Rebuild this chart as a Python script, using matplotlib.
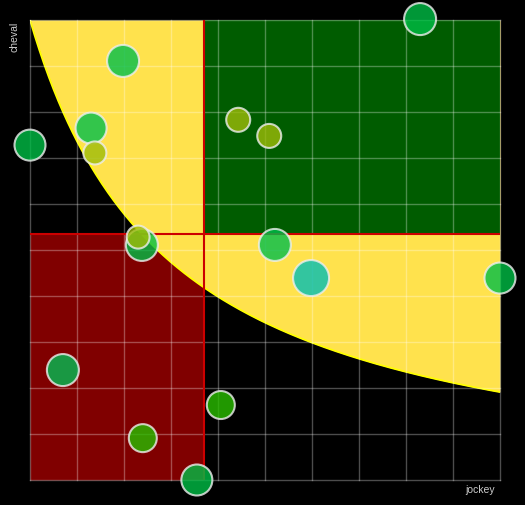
import numpy as np
import matplotlib
matplotlib.use("Agg")
import matplotlib.pyplot as plt
from matplotlib.patches import Rectangle

# --- données -------------------------------------------------------------
# position des points (jockey, cheval) sur une échelle de 0 à 10
jockey = [1.98, 1.30, 0.00, 1.38, 4.43, 5.09, 8.30, 2.38, 2.30, 5.21, 5.98, 10.00, 0.70, 4.06, 2.40, 3.55]
cheval = [9.11, 7.65, 7.28, 7.11, 7.83, 7.48, 10.02, 5.11, 5.28, 5.11, 4.39, 4.39, 2.39, 1.63, 0.91, 0.00]
# rayon des bulles (px)
rayon = [16, 15.5, 15.5, 11.5, 12, 12, 16, 16, 11.5, 16, 18, 15.5, 16, 14, 14, 15.5]
couleur = ["#00BE4B", "#00BE4B", "#00BE46", "#9EBC0A", "#9EBC0A", "#9EBC0A", "#00BE46", "#00BE46",
           "#9EBC0A", "#00BE4B", "#00BEB4", "#00BE46", "#00BF55", "#2ABF00", "#26BF00", "#00BE46"]

# seuils (lignes rouges)
seuil_jockey = 3.7
seuil_cheval = 5.35
# courbe de séparation : (u/10 + A) * (v + B*10) = C*10
A, B, C = 0.298, 0.05, 0.313

# --- figure --------------------------------------------------------------
fig = plt.figure(figsize=(5.25, 5.05), dpi=100, facecolor="black")
ax = fig.add_axes([30 / 525, 25 / 505, 470 / 525, 460 / 505])
ax.set_facecolor("black")
ax.set_xlim(0, 10)
ax.set_ylim(0, 10)

u = np.linspace(0, 10, 400)
courbe = C * 10 / (u / 10 + A) - B * 10

# zone jaune au-dessus de la courbe
ax.fill_between(u, courbe, 10, color="#FFE24D", lw=0, zorder=1)
ax.plot(u, courbe, color="#FFFF00", lw=1.3, zorder=1.5)
# zone verte (haut droite)
ax.add_patch(Rectangle((seuil_jockey, seuil_cheval), 10 - seuil_jockey, 10 - seuil_cheval,
                       facecolor="#005C00", lw=0, zorder=1.2))
# zone rouge (bas gauche, sous la courbe)
ug = u[u <= seuil_jockey]
ax.fill_between(ug, 0, np.minimum(courbe[u <= seuil_jockey], seuil_cheval),
                color="#800000", lw=0, zorder=1.2)

# grille
ax.set_xticks(np.arange(0, 11, 1))
ax.set_yticks(np.arange(0, 11, 1))
ax.grid(True, color="white", alpha=0.3, lw=1)
ax.set_axisbelow(False)
for g in ax.get_xgridlines() + ax.get_ygridlines():
    g.set_zorder(2)
    g.set_clip_on(False)
ax.tick_params(length=0, labelbottom=False, labelleft=False)
for s in ax.spines.values():
    s.set_visible(False)

# lignes de seuil
ax.axvline(seuil_jockey, color="#CC0000", lw=1.5, zorder=3)
ax.axhline(seuil_cheval, color="#CC0000", lw=1.5, zorder=3)

# bulles
tailles = [(2 * r * 0.72) ** 2 for r in rayon]
ax.scatter(jockey, cheval, s=tailles, c=couleur, alpha=0.8, edgecolors="#EEEEEE",
           linewidths=1.5, zorder=4, clip_on=False)

fig.text(495 / 525, 1 - 490 / 505, "jockey", color="#CCCCCC", fontsize=7.5,
         family="Liberation Sans", ha="right", va="center")
fig.text(15 / 525, 1 - 22 / 505, "cheval", color="#CCCCCC", fontsize=7.5,
         family="Liberation Sans", rotation=90, ha="center", va="top")

fig.savefig("out.png", dpi=100, facecolor="black")
